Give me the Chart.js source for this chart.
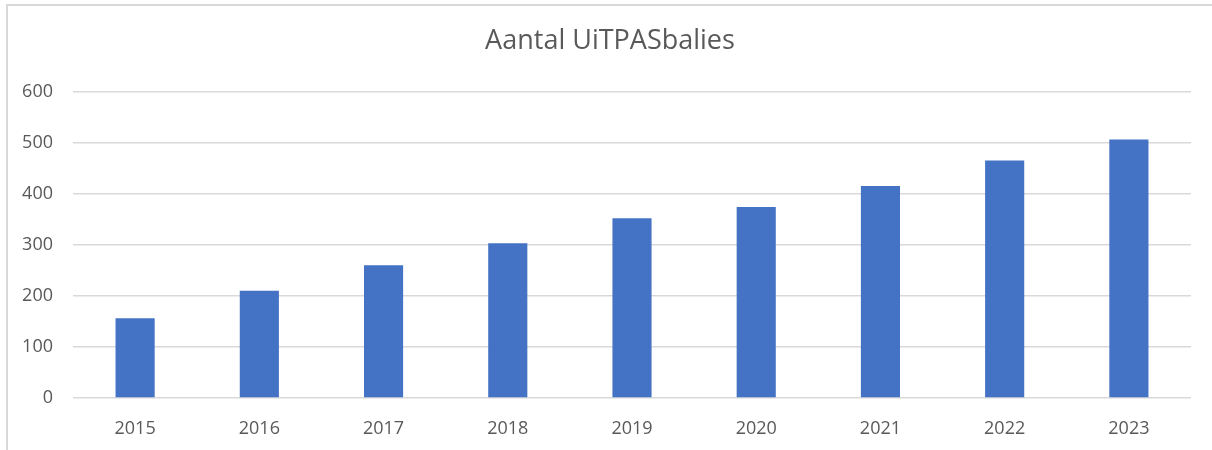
<!DOCTYPE html>
<html>
<head>
<meta charset="utf-8">
<script src="https://cdn.jsdelivr.net/npm/chart.js@4"></script>
<style>
  html, body { margin: 0; padding: 0; background: #fff; }
  #wrap { position: relative; width: 1212px; height: 450px; }
  #frame { position: absolute; left: 6px; top: 4px; right: 0; bottom: 0;
           border-left: 2px solid #d9d9d9; border-top: 2px solid #d9d9d9; pointer-events: none; }
  canvas { position: absolute; left: 0; top: 0; }
</style>
</head>
<body>
<div id="wrap">
  <canvas id="c" width="1212" height="450"></canvas>
  <div id="frame"></div>
</div>
<script>
const titleText = "Aantal UiTPASbalies";
const categories = ["2015", "2016", "2017", "2018", "2019", "2020", "2021", "2022", "2023"];
const values = [156, 210, 260, 303, 352, 374, 415, 465, 506];
const yTicks = [0, 100, 200, 300, 400, 500, 600];

const textColor = "#595959";
const fontFamily = "'Open Sans', 'Liberation Sans', sans-serif";

new Chart(document.getElementById("c"), {
  type: "bar",
  data: {
    labels: categories,
    datasets: [{
      label: titleText,
      data: values,
      backgroundColor: "#4472C4",
      borderWidth: 0,
      categoryPercentage: 1,
      barPercentage: 0.315,
      yAxisID: "y"
    }]
  },
  options: {
    responsive: false,
    animation: false,
    devicePixelRatio: 1,
    layout: { padding: { left: 8, right: 0, top: 0, bottom: 0 } },
    plugins: {
      legend: { display: false },
      tooltip: { enabled: false },
      title: {
        display: true,
        text: titleText,
        color: textColor,
        font: { family: fontFamily, size: 27, weight: "normal" },
        padding: { top: 25, bottom: 34 }
      }
    },
    scales: {
      x: {
        grid: { display: false, drawTicks: false },
        border: { display: false },
        ticks: { color: textColor, font: { family: fontFamily, size: 18 }, padding: 20, maxRotation: 0 },
        afterFit: (s) => { s.height = 52; }
      },
      y: {
        min: 0,
        max: 600,
        afterBuildTicks: (s) => { s.ticks = yTicks.map(v => ({ value: v })); },
        grid: { color: "#d9d9d9", lineWidth: 1.5, drawTicks: false },
        border: { display: false },
        ticks: { color: textColor, font: { family: fontFamily, size: 18 }, padding: 20 },
        afterFit: (s) => { s.width = 65; }
      },
      spacer: {
        type: "linear",
        position: "right",
        display: true,
        grid: { display: false, drawTicks: false },
        border: { display: false },
        ticks: { display: false },
        afterFit: (s) => { s.width = 21; }
      }
    }
  }
});
</script>
</body>
</html>
